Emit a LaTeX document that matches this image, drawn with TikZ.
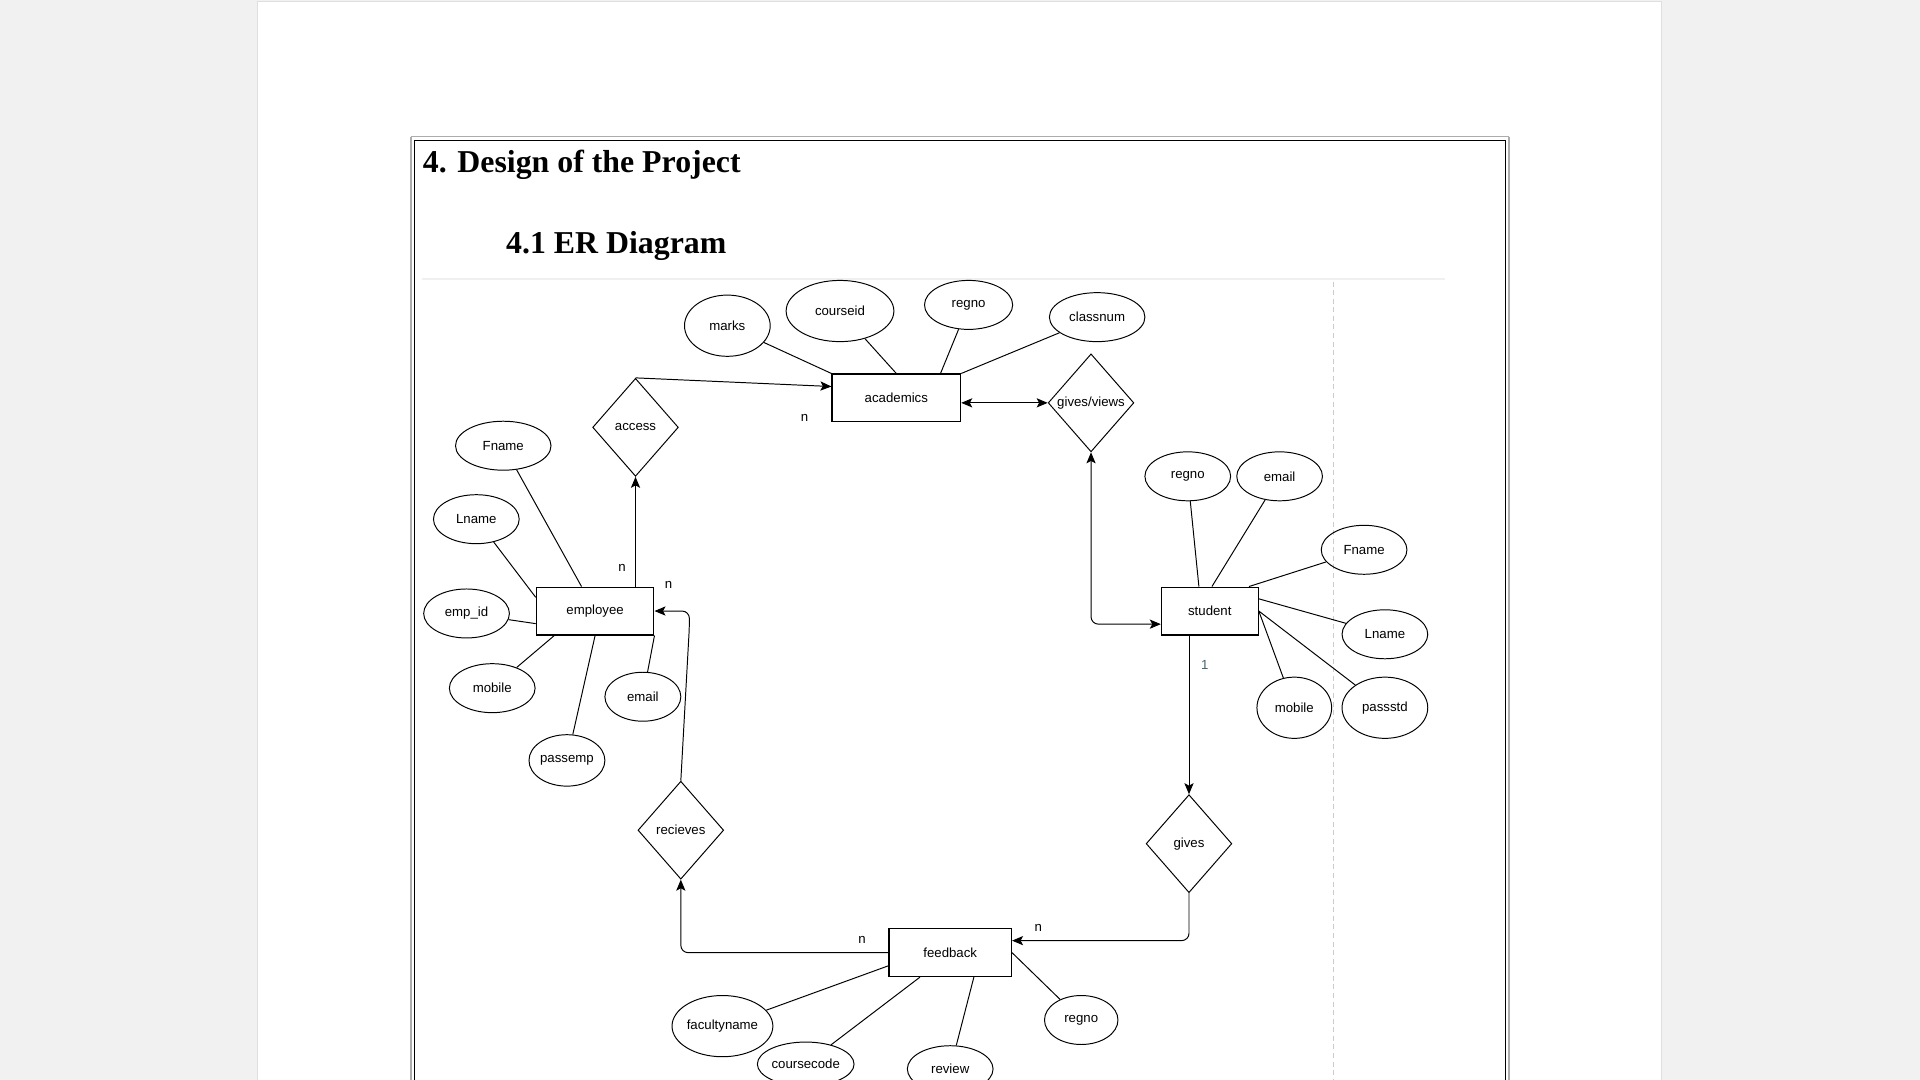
\documentclass[tikz,border=0pt]{standalone}
\usepackage{fontspec}
\setmainfont{Liberation Serif}
\setsansfont{Liberation Sans}
\usepackage{tikz}
\usetikzlibrary{shapes.geometric,arrows.meta}
\definecolor{pagegray}{RGB}{241,241,241}
\definecolor{onecolor}{RGB}{70,100,115}

\begin{document}
\begin{tikzpicture}[x=1pt,y=-1pt,line width=0.8pt,
    every node/.style={font=\sffamily\fontsize{10.8}{12}\selectfont},
    entity/.style={draw,rectangle,line width=1pt,minimum width=#1,minimum height=39pt,inner sep=0pt},
    attr/.style 2 args={draw,ellipse,minimum width=#1,minimum height=#2,inner sep=0pt},
    rel/.style={draw,diamond,minimum width=70pt,minimum height=80pt,inner sep=0pt},
    card/.style={inner sep=0pt},
    link/.style={-{Stealth[length=9pt,width=7.5pt,inset=2pt]}},
    twoway/.style={{Stealth[length=9pt,width=7.5pt,inset=2pt]}-{Stealth[length=9pt,width=7.5pt,inset=2pt]}},
    heading/.style={anchor=base west,inner sep=0pt,font=\rmfamily\bfseries\fontsize{26}{30}\selectfont}]
    \useasboundingbox (0,0) rectangle (1568,882);
    % page
    \fill[pagegray] (0,0) rectangle (1568,882);
    \fill[white] (210,1) rectangle (1357,882);
    \draw[gray!25,line width=0.6pt] (210,1) -- (210,882) (1357,1) -- (1357,882) (210,1) -- (1357,1);
    \draw[gray!65,line width=1.5pt] (335.5,111.5) -- (1232.5,111.5) (335.5,111.5) -- (335.5,900) (1232.5,111.5) -- (1232.5,900);
    \draw[black,line width=0.9pt] (338.5,114.5) -- (1229.5,114.5) (338.5,114.5) -- (338.5,900) (1229.5,114.5) -- (1229.5,900);
    \draw[gray!12,line width=1.5pt] (345,228) -- (1180,228);
    \draw[gray!40,line width=0.6pt,dash pattern=on 4pt off 3pt] (1089,230) -- (1089,882);
    \node[heading] (title) at (345,141) {4. Design of the Project};
    \node[heading] (subtitle) at (413,207) {4.1 ER Diagram};
    % entities
    \node[entity=105pt] (academics) at (732,325) {academics};
    \node[entity=96pt] (employee) at (486,499) {employee};
    \node[entity=79pt] (student) at (988,499) {student};
    \node[entity=100pt] (feedback) at (776,778) {feedback};
    % relations
    \node[rel] (access) at (519,349) {access};
    \node[rel] (gives_views) at (891,329) {gives/views};
    \node[rel] (recieves) at (556,678) {recieves};
    \node[rel] (gives) at (971,689) {gives};
    % attributes of academics
    \node[attr={70pt}{50pt}] (acad_marks) at (594,266) {marks};
    \node[attr={88pt}{50pt}] (acad_courseid) at (686,254) {courseid};
    \node[attr={72pt}{40pt}] (acad_regno) at (791,249) {regno};
    \node[attr={78pt}{40pt}] (acad_classnum) at (896,259) {classnum};
    % attributes of employee
    \node[attr={78pt}{40pt}] (emp_fname) at (411,364) {Fname};
    \node[attr={70pt}{40pt}] (emp_lname) at (389,424) {Lname};
    \node[attr={70pt}{40pt}] (emp_id) at (381,501) {emp\_id};
    \node[attr={70pt}{40pt}] (emp_mobile) at (402,562) {mobile};
    \node[attr={62pt}{42pt}] (emp_pass) at (463,621) {passemp};
    \node[attr={62pt}{40pt}] (emp_email) at (525,569) {email};
    % attributes of student
    \node[attr={70pt}{40pt}] (std_regno) at (970,389) {regno};
    \node[attr={70pt}{40pt}] (std_email) at (1045,389) {email};
    \node[attr={70pt}{40pt}] (std_fname) at (1114,449) {Fname};
    \node[attr={70pt}{40pt}] (std_lname) at (1131,518) {Lname};
    \node[attr={61pt}{50pt}] (std_mobile) at (1057,578) {mobile};
    \node[attr={70pt}{50pt}] (std_pass) at (1131,578) {passstd};
    % attributes of feedback
    \node[attr={78pt}{50pt}] (fb_faculty) at (590,838) {facultyname};
    \node[attr={78pt}{36pt}] (fb_course) at (658,869) {coursecode};
    \node[attr={70pt}{38pt}] (fb_review) at (776,873) {review};
    \node[attr={60pt}{40pt}] (fb_regno) at (883,833) {regno};
    % cardinalities
    \node[card] (card_acad) at (657,341) {n};
    \node[card] (card_emp_top) at (508,464) {n};
    \node[card] (card_emp_right) at (546,478) {n};
    \node[card,text=onecolor] (card_std) at (984,543) {1};
    \node[card] (card_fb_right) at (848,758) {n};
    \node[card] (card_fb_left) at (704,768) {n};
    % relationships
    \draw[link] (access.north) -- (academics.170);
    \draw[link] (access.south |- employee.north) -- (access.south);
    \draw[twoway] (academics.east |- gives_views.west) -- (gives_views.west);
    \draw[twoway,rounded corners=6pt] (gives_views.south) |- (student.195);
    \draw[link] (gives.north |- student.south) -- (gives.north);
    \draw[link,rounded corners=6pt] (gives.south) |- (feedback.11);
    \draw[link,rounded corners=6pt] (feedback.west) -| (recieves.south);
    \draw[link,rounded corners=6pt] (recieves.north) -- ++(7,-126) |- (employee.east);
    % attribute lines
    \draw (acad_marks) -- (academics.north west);
    \draw (acad_courseid) -- (academics.north);
    \draw (acad_regno) -- (academics.29);
    \draw (acad_classnum) -- (academics.north east);
    \draw (emp_fname) -- (employee.119);
    \draw (emp_lname) -- (employee.167);
    \draw (emp_id) -- (employee.192);
    \draw (emp_mobile) -- (employee.211);
    \draw (emp_pass) -- (employee.south);
    \draw (emp_email) -- (employee.south east);
    \draw (std_regno) -- (student.114);
    \draw (std_email) -- (student.85);
    \draw (std_fname) -- (student.32);
    \draw (std_lname) -- (student.14);
    \draw (std_mobile) -- (student.east);
    \draw (std_pass) -- (student.east);
    \draw (fb_faculty) -- (feedback.192);
    \draw (fb_course) -- (feedback.219);
    \draw (fb_review) -- (feedback.-46);
    \draw (fb_regno) -- (feedback.east);
\end{tikzpicture}
\end{document}
